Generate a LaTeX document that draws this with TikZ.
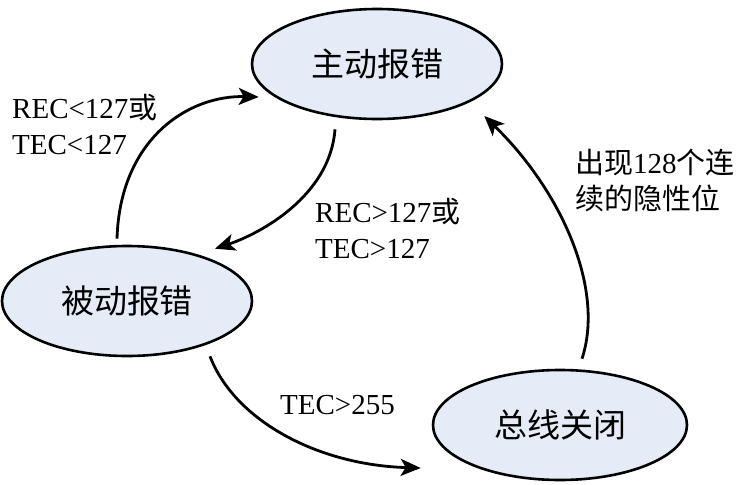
\documentclass[tikz,border=0pt]{standalone}
\usepackage{fontspec}
\setmainfont{Liberation Serif}
\newfontfamily\cjk{Noto Sans CJK SC}
\usetikzlibrary{
    arrows.meta,
    positioning,
    shapes.geometric,
    calc
}
\definecolor{statefill}{RGB}{230,236,247}

\begin{document}
\begin{tikzpicture}[
    x=1pt, y=-1pt,
    >=Stealth,
    state/.style={ellipse, draw, line width=2.6pt, fill=statefill, inner sep=0, font=\cjk\fontsize{33}{33}\selectfont},
    trans/.style={-{Stealth[length=20pt, width=17pt, inset=5pt]}, line width=2.8pt},
    cond/.style={anchor=west, align=left, inner sep=0, font=\fontsize{29}{36}\selectfont}
]
\useasboundingbox (0,0) rectangle (748,485);

% States
\node[state, minimum width=250pt, minimum height=110pt] (active) at (377,64) {主动报错};
\node[state, minimum width=250pt, minimum height=110pt] (passive) at (127,301) {被动报错};
\node[state, minimum width=254pt, minimum height=110pt] (busoff) at (560,425) {总线关闭};

% Transitions
\draw[trans] ($(passive.north)+(-10,-6)$) .. controls +(3,-100) and +(-70,-2) .. ($(active.west)+(8,33)$);
\draw[trans] ($(active.south)+(-42,9)$) .. controls +(-5,67) and +(45,-15) .. ($(passive.north)+(88,4)$);
\draw[trans] ($(passive.south)+(83,-1)$) .. controls +(25,65) and +(-102,-3) .. ($(busoff.west)+(-11,43)$);
\draw[trans] ($(busoff.north)+(22,-10)$) .. controls +(23,-70) and +(77,75) .. ($(active.east)+(-19,52)$);

% Conditions
\node[cond] (recdown) at (12,124) {REC<127{\cjk 或}\\TEC<127};
\node[cond] (recup) at (315,228) {REC>127{\cjk 或}\\TEC>127};
\node[cond] (tecover) at (280,405) {TEC>255};
\node[cond] (recover) at (575,180) {{\cjk 出现}128{\cjk 个连}\\{\cjk 续的隐性位}};
\end{tikzpicture}
\end{document}
